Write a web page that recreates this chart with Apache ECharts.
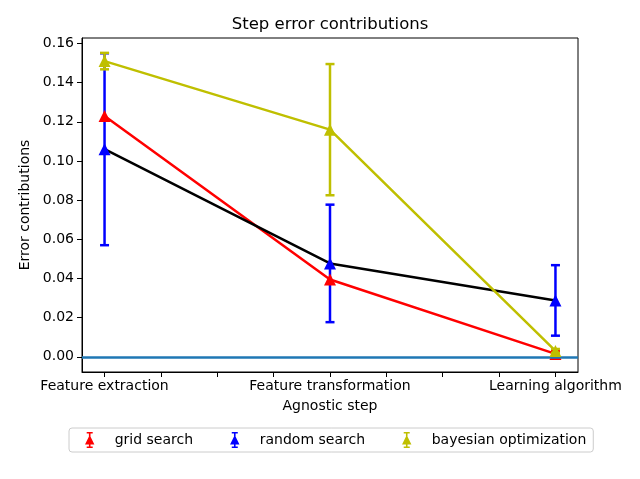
<!DOCTYPE html>
<html>
    <head>
        <meta charset=utf-8>
    </head>
    <body style="margin:0">
        <div id="chart" style="width:640px;height:479px"></div>
        <script src="https://cdn.jsdelivr.net/npm/echarts@6/dist/echarts.min.js"></script>
        <script type="text/javascript">

            var myChart = echarts.init(document.querySelector('#chart'));

            let steps = ['Feature extraction', 'Feature transformation', 'Learning algorithm']
            let xpos = [0, 1, 2]
            let gridVals = [0.123, 0.0395, 0.0015]
            let gridErr = [0, 0, 0.0015]
            let randomVals = [0.106, 0.0477, 0.0288]
            let randomErr = [0.049, 0.030, 0.018]
            let bayesVals = [0.151, 0.116, 0.003]
            let bayesErr = [0.0042, 0.0335, 0.001]
            let yTicks = [0, 0.02, 0.04, 0.06, 0.08, 0.10, 0.12, 0.14, 0.16]
            let xTicks = [0, 0.25, 0.5, 0.75, 1, 1.25, 1.5, 1.75, 2]

            const font = 'DejaVu Sans'
            // 图例icon: 三角 + 误差棒
            const errIcon = 'path://M2,0H8V1.6H2Z M4.2,0H5.8V16H4.2Z M2,14.4H8V16H2Z M0.3,12.5L5,3L9.7,12.5Z'

            function pts(vals) {
                return xpos.map((x, i) => [x, vals[i]])
            }
            function errPts(vals, errs) {
                return xpos.map((x, i) => [x, vals[i], errs[i]])
            }

            function errSeries(name, vals, errs, color, z) {
                return {
                    name: name,
                    type: 'custom',
                    z: z,
                    silent: true,
                    data: errPts(vals, errs),
                    renderItem: function (params, api) {
                        let x = api.value(0), y = api.value(1), e = api.value(2)
                        if (!(e > 0)) return null
                        let top = api.coord([x, y + e])
                        let bot = api.coord([x, y - e])
                        let style = {stroke: color, lineWidth: 2.5}
                        return {
                            type: 'group',
                            children: [
                                {type: 'line', shape: {x1: top[0], y1: top[1], x2: bot[0], y2: bot[1]}, style: style},
                                {type: 'line', shape: {x1: top[0] - 4.5, y1: top[1], x2: top[0] + 4.5, y2: top[1]}, style: style},
                                {type: 'line', shape: {x1: bot[0] - 4.5, y1: bot[1], x2: bot[0] + 4.5, y2: bot[1]}, style: style},
                            ]
                        }
                    }
                }
            }

            function lineSeries(name, vals, lineColor, markColor, z) {
                return {
                    name: name,
                    type: 'line',
                    z: z,
                    data: pts(vals),
                    symbol: 'triangle',
                    symbolSize: 12,
                    showAllSymbol: true,
                    lineStyle: {color: lineColor, width: 2.5},
                    itemStyle: {color: markColor},
                    emphasis: {disabled: true},
                }
            }

            let option = {
            animation: false,
            textStyle: {fontFamily: font},
            title: {
                text: 'Step error contributions',
                left: 330,
                top: 16,
                textAlign: 'center',
                padding: 0,
                textStyle: {fontFamily: font, fontSize: 16.5, fontWeight: 'normal', color: '#000'},
            },
            legend: {
                left: 69,
                top: 428,
                padding: [4, 7, 4, 16],
                itemWidth: 40,
                itemHeight: 16,
                itemGap: 37,
                borderColor: '#cccccc',
                borderWidth: 1,
                borderRadius: 3,
                selectedMode: false,
                textStyle: {fontFamily: font, fontSize: 14, color: '#000'},
                data: [
                    {name: 'grid search', icon: errIcon, itemStyle: {color: '#ff0000', borderWidth: 0}, lineStyle: {width: 0}},
                    {name: 'random search', icon: errIcon, itemStyle: {color: '#0000ff', borderWidth: 0}, lineStyle: {width: 0}},
                    {name: 'bayesian optimization', icon: errIcon, itemStyle: {color: '#bfbf00', borderWidth: 0}, lineStyle: {width: 0}},
                ],
            },
            grid: {
                left: 82,
                right: 62,
                top: 38,
                bottom: 107,
                show: true,
                borderColor: '#000',
                borderWidth: 1,
                containLabel: false,
            },
            xAxis: {
                type: 'value',
                min: -0.1,
                max: 2.1,
                name: 'Agnostic step',
                nameLocation: 'middle',
                nameGap: 27,
                nameTextStyle: {fontFamily: font, fontSize: 14, color: '#000'},
                axisLine: {show: true, onZero: false, lineStyle: {color: '#000', width: 1}},
                axisTick: {show: true, length: 5, customValues: xTicks, lineStyle: {color: '#000'}},
                axisLabel: {
                    customValues: xpos,
                    margin: 7,
                    fontFamily: font,
                    fontSize: 14,
                    color: '#000',
                    formatter: v => steps[Math.round(v)],
                },
                splitLine: {show: false},
            },
            yAxis: {
                type: 'value',
                min: -0.00775,
                max: 0.1628,
                name: 'Error contributions',
                nameLocation: 'middle',
                nameGap: 47,
                nameTextStyle: {fontFamily: font, fontSize: 14, color: '#000'},
                axisLine: {show: true, onZero: false, lineStyle: {color: '#000', width: 1}},
                axisTick: {show: true, length: 5, customValues: yTicks, lineStyle: {color: '#000'}},
                axisLabel: {
                    customValues: yTicks,
                    margin: 8,
                    fontFamily: font,
                    fontSize: 14,
                    color: '#000',
                    formatter: v => v.toFixed(2),
                },
                splitLine: {show: false},
            },
            series: [
                {
                    name: 'zero',
                    type: 'line',
                    data: [],
                    z: 1,
                    markLine: {
                        silent: true,
                        symbol: 'none',
                        label: {show: false},
                        lineStyle: {color: '#1f77b4', type: 'solid', width: 2.5},
                        data: [{yAxis: 0}],
                    },
                },
                errSeries('random err', randomVals, randomErr, '#0000ff', 2),
                errSeries('grid err', gridVals, gridErr, '#ff0000', 3),
                lineSeries('grid search', gridVals, '#ff0000', '#ff0000', 3),
                lineSeries('random search', randomVals, '#000000', '#0000ff', 4),
                errSeries('bayes err', bayesVals, bayesErr, '#bfbf00', 5),
                lineSeries('bayesian optimization', bayesVals, '#bfbf00', '#bfbf00', 5),
            ],
            }
            myChart.setOption(option);
        </script>
    </body>
</html>
